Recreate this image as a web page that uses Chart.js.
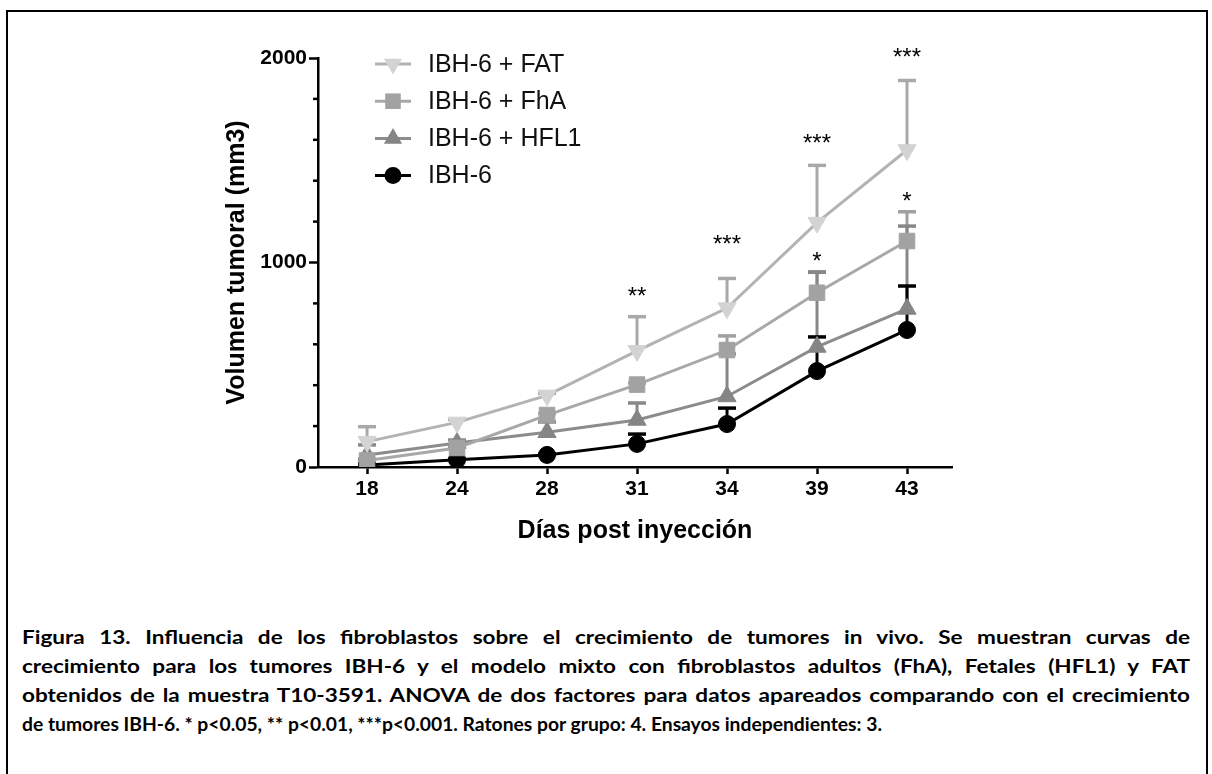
<!DOCTYPE html>
<html>
<head>
<meta charset="utf-8">
<script src="https://cdn.jsdelivr.net/npm/chart.js@4.4.0/dist/chart.umd.min.js"></script>
<style>
html,body{margin:0;padding:0;background:#fff;width:1212px;height:774px;overflow:hidden;}
#frame{position:absolute;left:6px;top:10px;width:1202px;height:900px;border:2px solid #000;box-sizing:border-box;}
#wrap{position:absolute;left:0;top:0;width:1212px;height:560px;}
#cap{position:absolute;left:22px;top:0;width:1168px;font-family:Lato,"Open Sans","Liberation Sans",sans-serif;font-weight:bold;font-size:19px;color:#000;}
.ln{position:absolute;left:0;white-space:nowrap;line-height:20px;transform-origin:0 50%;}
</style>
</head>
<body>
<div id="frame"></div>
<div id="wrap"><canvas id="c" width="1212" height="560"></canvas></div>
<div id="cap"></div>
<script>
// ---- data ----
const days = ['18','24','28','31','34','39','43'];
const seriesNames = ['IBH-6 + FAT','IBH-6 + FhA','IBH-6 + HFL1','IBH-6'];
const fat     = [124, 218, 350, 568, 777, 1195, 1550];
const fatErr  = [73, 14, 10, 167, 145, 280, 340];
const fha     = [32, 93, 254, 403, 572, 852, 1105];
const fhaErr  = [8, 8, 8, 8, 69, 103, 143];
const hfl1    = [59, 117, 170, 230, 345, 587, 773];
const hfl1Err = [49, 15, 50, 83, 208, 365, 405];
const ibh6    = [10, 35, 59, 113, 210, 469, 670];
const ibh6Err = [4, 4, 4, 48, 78, 167, 215];
const sigIndex = [3, 4, 5, 5, 6, 6];
const sigValue = [866, 1120, 1614, 1037, 2036, 1330];
const sigText  = ['**', '***', '***', '*', '***', '*'];
const yMajor = [0, 1000, 2000];
const yMinorStep = 200;
const captionLines = [
  'Figura 13. Influencia de los fibroblastos sobre el crecimiento de tumores in vivo. Se muestran curvas de',
  'crecimiento para los tumores IBH-6 y el modelo mixto con fibroblastos adultos (FhA), Fetales (HFL1) y FAT',
  'obtenidos de la muestra T10-3591. ANOVA de dos factores para datos apareados comparando con el crecimiento',
  'de tumores IBH-6. * p<0.05, ** p<0.01, ***p<0.001. Ratones por grupo: 4. Ensayos independientes: 3.'
];

// ---- styles ----
const styles = [
  {line:'#b3b3b3', fill:'#d3d3d3', err:'#a9a9a9', shape:'triangle', rot:180, r:10.5},
  {line:'#a8a8a8', fill:'#a2a2a2', err:'#a0a0a0', shape:'rect', rot:0, r:11},
  {line:'#8c8c8c', fill:'#858585', err:'#888888', shape:'triangle', rot:0, r:10.5},
  {line:'#000000', fill:'#000000', err:'#000000', shape:'circle', rot:0, r:8.5}
];
const values = [fat, fha, hfl1, ibh6];
const errors = [fatErr, fhaErr, hfl1Err, ibh6Err];

const datasets = values.map((arr, k) => ({
  label: seriesNames[k],
  data: arr.map((v, i) => ({x: i, y: v})),
  borderColor: styles[k].line,
  backgroundColor: styles[k].fill,
  borderWidth: 3,
  pointStyle: styles[k].shape,
  pointRotation: styles[k].rot,
  pointRadius: styles[k].r,
  pointBackgroundColor: styles[k].fill,
  pointBorderColor: styles[k].fill,
  pointBorderWidth: 1,
  tension: 0,
  fill: false
}));

const AX = '"Liberation Sans", Arial, sans-serif';

function drawMarker(ctx, shape, rot, r, x, y, color) {
  ctx.save();
  ctx.fillStyle = color;
  ctx.beginPath();
  if (shape === 'circle') {
    ctx.arc(x, y, r, 0, Math.PI * 2);
  } else if (shape === 'rect') {
    const s = Math.SQRT1_2 * r;
    ctx.rect(x - s, y - s, 2 * s, 2 * s);
  } else {
    let a = rot * Math.PI / 180;
    for (let j = 0; j < 3; j++) {
      const px = x + Math.sin(a) * r, py = y - Math.cos(a) * r;
      if (j === 0) ctx.moveTo(px, py); else ctx.lineTo(px, py);
      a += 2 * Math.PI / 3;
    }
    ctx.closePath();
  }
  ctx.fill();
  ctx.restore();
}

const errorBars = {
  id: 'errorBars',
  beforeDatasetsDraw(chart) {
    const {ctx, scales: {x, y}} = chart;
    ctx.save();
    ctx.lineCap = 'butt';
    values.forEach((arr, k) => {
      ctx.strokeStyle = styles[k].err;
      arr.forEach((v, i) => {
        const px = x.getPixelForValue(i);
        const p0 = y.getPixelForValue(v);
        const p1 = y.getPixelForValue(v + errors[k][i]);
        ctx.lineWidth = 3;
        ctx.beginPath(); ctx.moveTo(px, p0); ctx.lineTo(px, p1); ctx.stroke();
        ctx.lineWidth = 3.5;
        ctx.beginPath(); ctx.moveTo(px - 9, p1); ctx.lineTo(px + 9, p1); ctx.stroke();
      });
    });
    ctx.restore();
  }
};

const extras = {
  id: 'extras',
  afterDraw(chart) {
    const {ctx, chartArea, scales: {x, y}} = chart;
    // minor y ticks
    ctx.save();
    ctx.strokeStyle = '#000';
    ctx.lineWidth = 2.5;
    for (let v = y.min + yMinorStep; v < y.max; v += yMinorStep) {
      if (yMajor.includes(v)) continue;
      const py = y.getPixelForValue(v);
      ctx.beginPath(); ctx.moveTo(chartArea.left - 5, py); ctx.lineTo(chartArea.left, py); ctx.stroke();
    }
    // significance stars
    ctx.fillStyle = '#000';
    ctx.font = '24px ' + AX;
    ctx.textAlign = 'center';
    ctx.textBaseline = 'alphabetic';
    sigText.forEach((t, j) => {
      ctx.fillText(t, x.getPixelForValue(sigIndex[j]), y.getPixelForValue(sigValue[j]) + 14);
    });
    // legend
    const ly0 = 64, ldy = 37.2;
    ctx.font = '25px ' + AX;
    ctx.textAlign = 'left';
    ctx.textBaseline = 'middle';
    seriesNames.forEach((name, k) => {
      const ly = ly0 + k * ldy;
      ctx.strokeStyle = styles[k].line;
      ctx.lineWidth = 3;
      ctx.beginPath(); ctx.moveTo(375, ly); ctx.lineTo(411, ly); ctx.stroke();
      drawMarker(ctx, styles[k].shape, styles[k].rot, styles[k].r, 393, ly, styles[k].fill);
      ctx.fillStyle = '#111';
      ctx.fillText(name, 428, ly + 1);
    });
    ctx.restore();
  }
};

new Chart(document.getElementById('c'), {
  type: 'line',
  data: {datasets},
  plugins: [errorBars, extras],
  options: {
    responsive: false,
    animation: false,
    events: [],
    layout: {padding: {left: 218, right: 260, top: 58, bottom: 0}},
    plugins: {legend: {display: false}, tooltip: {enabled: false}},
    scales: {
      x: {
        type: 'linear',
        min: -0.545, max: 6.5,
        afterFit(s) { s.height = 93; },
        afterBuildTicks(s) { s.ticks = days.map((d, i) => ({value: i})); },
        ticks: {
          callback: (v) => days[v],
          color: '#000',
          font: {family: AX, size: 21, weight: 'bold'},
          padding: 3,
          maxRotation: 0, autoSkip: false
        },
        grid: {drawOnChartArea: false, drawTicks: true, tickLength: 7, tickWidth: 2.5, tickColor: '#000'},
        border: {display: true, color: '#000', width: 2.5},
        title: {display: true, text: 'Días post inyección', color: '#000',
                font: {family: AX, size: 25, weight: 'bold'}, padding: {top: 4, bottom: 14}}
      },
      y: {
        min: 0, max: 2000,
        afterFit(s) { s.width = 100; },
        afterBuildTicks(s) { s.ticks = yMajor.map(v => ({value: v})); },
        ticks: {
          callback: (v) => String(v),
          color: '#000',
          font: {family: AX, size: 21, weight: 'bold'},
          padding: 2
        },
        grid: {drawOnChartArea: false, drawTicks: true, tickLength: 9, tickWidth: 2.5, tickColor: '#000'},
        border: {display: true, color: '#000', width: 2.5},
        title: {display: true, text: 'Volumen tumoral (mm3)', color: '#000',
                font: {family: AX, size: 25, weight: 'bold'}, padding: {top: 4, bottom: 4}}
      }
    }
  }
});

// ---- caption: lines 1-3 justified to full width, last line left-aligned ----
const cap = document.getElementById('cap');
const lineCenters = [637, 666, 695, 724];
const fullWidth = 1168, line3Natural = 1130, lastWidth = 860;
const els = captionLines.map((t, i) => {
  const d = document.createElement('div');
  d.className = 'ln';
  d.textContent = t;
  d.style.top = (lineCenters[i] - 10) + 'px';
  cap.appendChild(d);
  return d;
});
const sx = line3Natural / els[2].getBoundingClientRect().width;
els.forEach((d, i) => {
  const w = d.getBoundingClientRect().width;
  if (i < 3) {
    const spaces = (captionLines[i].match(/ /g) || []).length;
    d.style.wordSpacing = ((fullWidth / sx - w) / spaces) + 'px';
    d.style.transform = 'scaleX(' + sx + ')';
  } else {
    d.style.transform = 'scaleX(' + (lastWidth / w) + ')';
  }
});
</script>
</body>
</html>
